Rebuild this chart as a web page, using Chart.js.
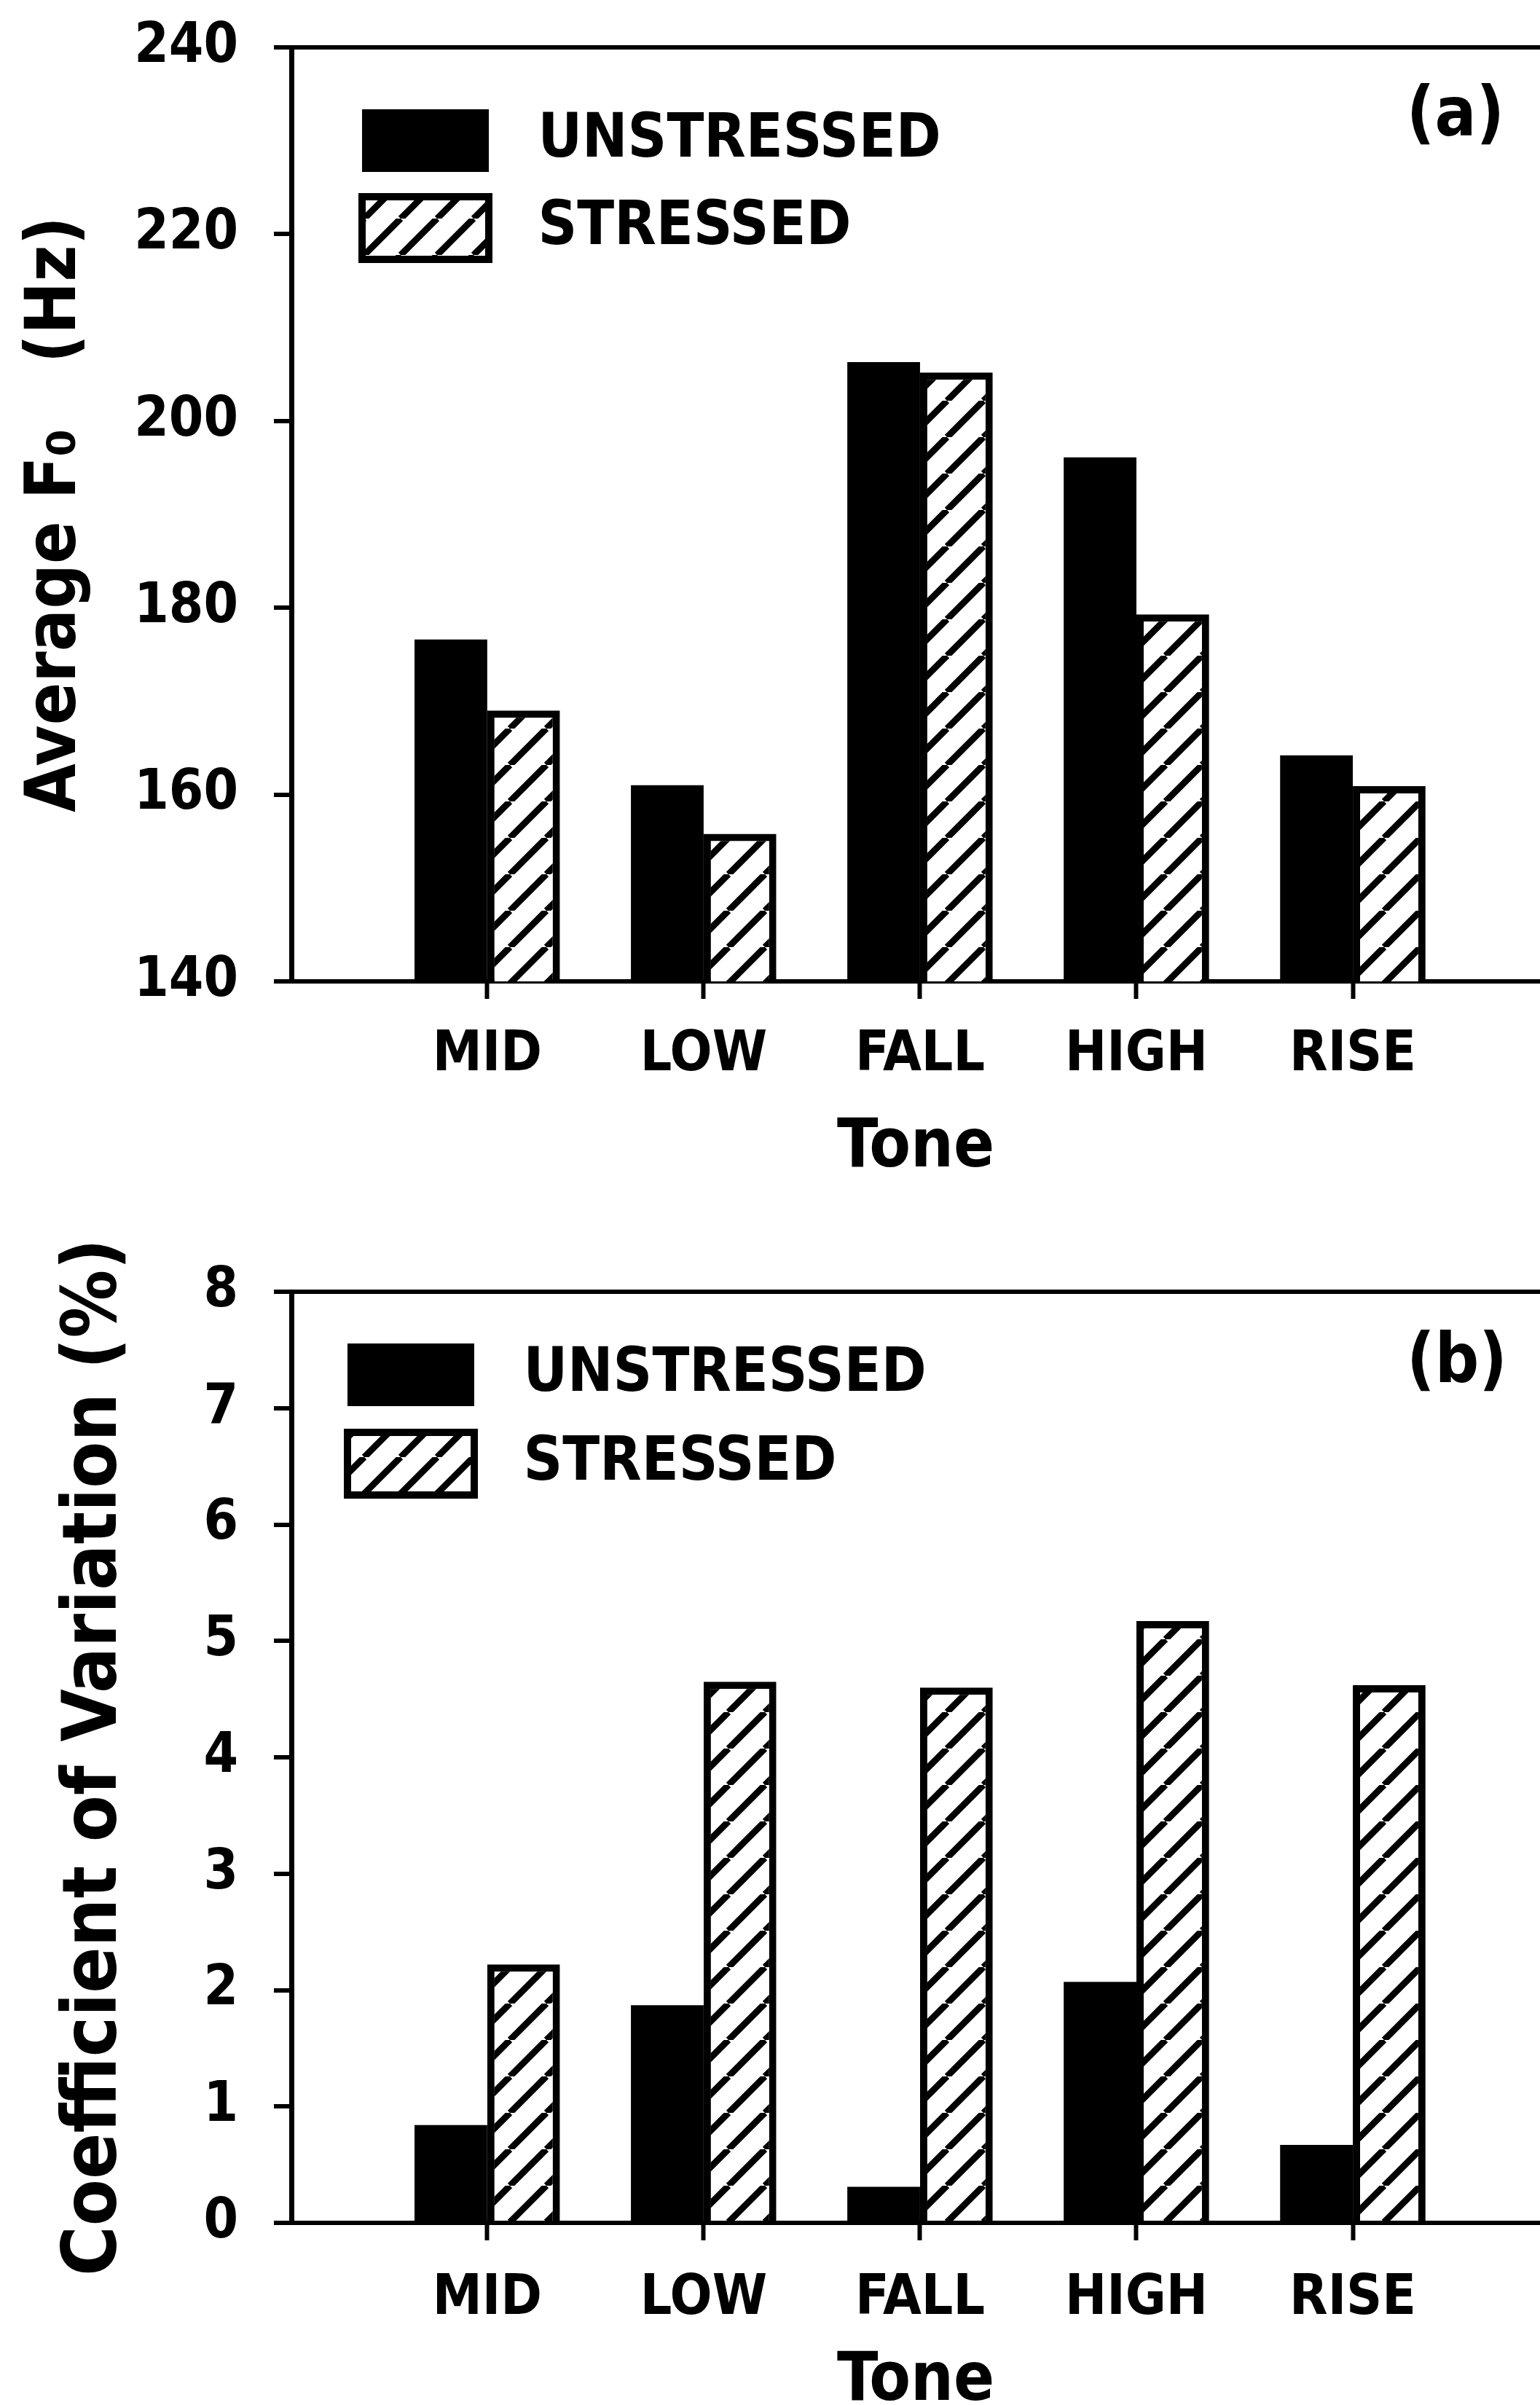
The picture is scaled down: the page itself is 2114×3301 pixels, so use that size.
<!DOCTYPE html>
<html>
<head>
<meta charset="utf-8">
<title>Average F0 and coefficient of variation by tone</title>
<script src="https://cdn.jsdelivr.net/npm/chart.js@4.4.1/dist/chart.umd.min.js"></script>
<style>
  html, body { margin: 0; padding: 0; background: #fff; }
  #page { width: 2114px; height: 3301px; overflow: hidden; position: relative; background: #fff; }
  canvas { display: block; }
</style>
</head>
<body>
<div id="page">
  <canvas id="f0Chart" width="2114" height="1650"></canvas>
  <canvas id="cvChart" width="2114" height="1651"></canvas>
</div>
<script>
const tones = ['MID', 'LOW', 'FALL', 'HIGH', 'RISE'];
const seriesNames = ['UNSTRESSED', 'STRESSED'];

// panel (a): average F0, Hz
const f0Unstressed = [176.6, 161.0, 206.3, 196.1, 164.2];
const f0Stressed = [169.0, 155.8, 205.2, 179.3, 160.9];
const f0Ticks = [140, 160, 180, 200, 220, 240];

// panel (b): coefficient of variation, %
const cvUnstressed = [0.84, 1.87, 0.31, 2.07, 0.67];
const cvStressed = [2.22, 4.65, 4.60, 5.17, 4.62];
const cvTicks = [0, 1, 2, 3, 4, 5, 6, 7, 8];

const FAMILY = "'DejaVu Sans Condensed', 'DejaVu Sans', sans-serif";
Chart.defaults.font.family = FAMILY;
Chart.defaults.font.weight = 'bold';
Chart.defaults.color = '#000';

// diagonal "/" hatch used for the stressed bars
function makeHatch() {
    const size = 50;
    const c = document.createElement('canvas');
    c.width = size;
    c.height = size;
    const g = c.getContext('2d');
    g.fillStyle = '#fff';
    g.fillRect(0, 0, size, size);
    g.strokeStyle = '#000';
    g.lineWidth = 9;
    g.beginPath();
    for (const k of [-1, 0, 1]) {
        g.moveTo(k * size, size);
        g.lineTo(k * size + size, 0);
    }
    g.stroke();
    return g.createPattern(c, 'repeat');
}
const hatch = makeHatch();

// puts the legend inside the plot and writes the panel letter
const panelPlugin = {
    id: 'panel',
    afterLayout(chart, args, opts) {
        if (chart.legend) {
            const pad = chart.legend.options.labels.padding;
            chart.legend.left = opts.legendX - pad;
            chart.legend.top = opts.legendY - pad;
        }
    },
    afterDraw(chart, args, opts) {
        const ctx = chart.ctx;
        ctx.save();
        ctx.font = Chart.helpers.toFont({ size: opts.size, weight: 'bold', family: FAMILY }).string;
        ctx.fillStyle = '#000';
        ctx.textAlign = 'center';
        ctx.textBaseline = 'middle';
        ctx.fillText(opts.text, opts.x, opts.y);
        ctx.restore();
    }
};

function toPoints(values) {
    return values.map((v, i) => ({ x: i + 1, y: v }));
}

function buildChart(id, cfg) {
    const yTicks = cfg.ticks;
    return new Chart(document.getElementById(id), {
        type: 'bar',
        plugins: [panelPlugin],
        data: {
            datasets: [
                {
                    label: seriesNames[0],
                    data: toPoints(cfg.unstressed),
                    backgroundColor: '#000',
                    borderColor: '#000',
                    borderWidth: 0
                },
                {
                    label: seriesNames[1],
                    data: toPoints(cfg.stressed),
                    backgroundColor: hatch,
                    borderColor: '#000',
                    borderWidth: 10
                }
            ]
        },
        options: {
            responsive: false,
            animation: false,
            devicePixelRatio: 1,
            categoryPercentage: 0.672,
            barPercentage: 1.0,
            layout: { padding: { top: cfg.top, right: 0, bottom: 0, left: 0 } },
            plugins: {
                tooltip: { enabled: false },
                legend: {
                    position: 'chartArea',
                    align: 'start',
                    labels: {
                        boxWidth: 174,
                        boxHeight: 86,
                        padding: cfg.legendGap,
                        color: '#000',
                        font: { size: 83, weight: 'bold' },
                        generateLabels: (chart) =>
                            Chart.defaults.plugins.legend.labels.generateLabels(chart)
                                .map(item => ({ ...item, text: ' ' + item.text }))
                    }
                },
                panel: cfg.panel
            },
            scales: {
                x: {
                    type: 'linear',
                    min: 0.095,
                    max: 5.865,
                    offset: false,
                    afterBuildTicks: (scale) => {
                        scale.ticks = tones.map((t, i) => ({ value: i + 1 }));
                    },
                    afterFit: (scale) => { scale.height = cfg.xAxisHeight; },
                    border: { display: true, color: '#000', width: 6 },
                    grid: {
                        offset: false,
                        drawOnChartArea: false,
                        drawTicks: true,
                        tickLength: 24,
                        tickWidth: 6,
                        tickColor: '#000'
                    },
                    ticks: {
                        autoSkip: false,
                        maxRotation: 0,
                        padding: cfg.xTickPad,
                        color: '#000',
                        font: { size: 76, weight: 'bold' },
                        callback: (value, index) => tones[index]
                    },
                    title: {
                        display: true,
                        text: 'Tone',
                        color: '#000',
                        font: { size: 92, weight: 'bold' },
                        padding: { top: 0, bottom: cfg.xTitlePad }
                    }
                },
                y: {
                    min: yTicks[0],
                    max: yTicks[yTicks.length - 1],
                    afterBuildTicks: (scale) => {
                        scale.ticks = yTicks.map(v => ({ value: v }));
                    },
                    afterFit: (scale) => {
                        scale.width = 400;
                        scale.paddingTop = 0;
                        scale.paddingBottom = 0;
                    },
                    border: { display: true, color: '#000', width: 7 },
                    grid: {
                        drawOnChartArea: true,
                        lineWidth: 6,
                        color: (ctx) => (ctx.tick && ctx.tick.value === yTicks[yTicks.length - 1]) ? '#000' : 'rgba(0,0,0,0)',
                        tickLength: 24,
                        tickWidth: 6,
                        tickColor: '#000'
                    },
                    ticks: {
                        padding: 49,
                        color: '#000',
                        font: { size: 76, weight: 'bold' }
                    },
                    title: {
                        display: true,
                        text: cfg.yTitle,
                        color: '#000',
                        font: { size: cfg.yTitleSize, weight: 'bold' },
                        padding: { top: cfg.yTitlePad, bottom: 0 }
                    }
                }
            }
        }
    });
}

buildChart('f0Chart', {
    unstressed: f0Unstressed,
    stressed: f0Stressed,
    ticks: f0Ticks,
    top: 65,
    xAxisHeight: 303,
    xTickPad: 33,
    xTitlePad: 18,
    yTitle: 'Average F\u2080   (Hz)',
    yTitleSize: 96,
    yTitlePad: 20,
    legendGap: 34,
    panel: { text: '(a)', size: 94, x: 1998, y: 162, legendX: 497, legendY: 150 }
});

buildChart('cvChart', {
    unstressed: cvUnstressed,
    stressed: cvStressed,
    ticks: cvTicks,
    top: 123,
    xAxisHeight: 250,
    xTickPad: 36,
    xTitlePad: -24,
    yTitle: 'Coefficient of Variation (%)',
    yTitleSize: 104,
    yTitlePad: 70,
    legendGap: 36,
    panel: { text: '(b)', size: 94, x: 2000, y: 223, legendX: 477, legendY: 194 }
});
</script>
</body>
</html>
